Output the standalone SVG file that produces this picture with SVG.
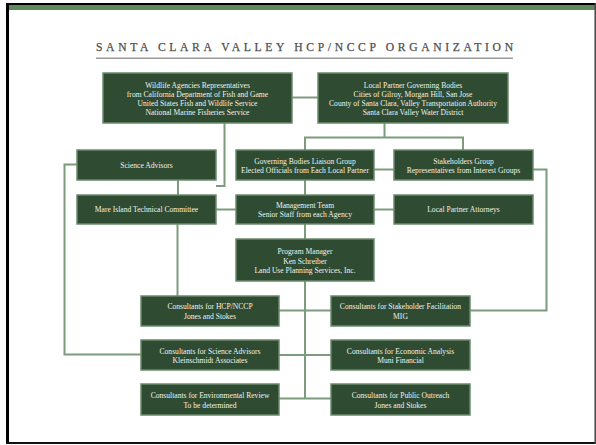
<svg xmlns="http://www.w3.org/2000/svg" width="596" height="445" viewBox="0 0 596 445">
<style>
.box{fill:#2f4b31;stroke:#6b8b6c;stroke-width:1.5}
.t{font-family:"Liberation Serif","Times New Roman",serif;font-size:7.6px;fill:#f2f2ea;text-anchor:middle}
.c{fill:none;stroke:#7d9b7d;stroke-width:2}
.title{font-family:"Liberation Serif","Times New Roman",serif;font-size:11.6px;fill:#4e4e4e;stroke:#4e4e4e;stroke-width:0.25}
</style>
<rect x="0" y="0" width="596" height="445" fill="#ffffff"/>
<g id="frame">
<rect x="9" y="5" width="587" height="5" fill="#5e8a5f"/>
<line x1="6" y1="4" x2="596" y2="4" stroke="#000" stroke-width="2"/>
<line x1="7.5" y1="3" x2="7.5" y2="444" stroke="#000" stroke-width="3"/>
<line x1="6" y1="443" x2="596" y2="443" stroke="#111" stroke-width="2"/>
<line x1="595.2" y1="3" x2="595.2" y2="444" stroke="#444" stroke-width="1.5"/>
</g>
<g id="title">
<text class="title" x="96" y="51" textLength="417" lengthAdjust="spacing">SANTA CLARA VALLEY HCP/NCCP ORGANIZATION</text>
<line x1="96" y1="58.3" x2="513" y2="58.3" stroke="#999" stroke-width="1.4"/>
</g>
<g id="connectors">
<path class="c" d="M292 97.5H318"/>
<path class="c" d="M224.5 123V186H216"/>
<path class="c" d="M384.5 123V137.5M305 150V137.5H463V150"/>
<path class="c" d="M178 180V195"/>
<path class="c" d="M77 164.5H64.5V354.5H141"/>
<path class="c" d="M216 209.5H236"/>
<path class="c" d="M305 180V195"/>
<path class="c" d="M374 169.5H394"/>
<path class="c" d="M533 169.5H546.5V310.5H470"/>
<path class="c" d="M374 209.5H394"/>
<path class="c" d="M305 224V239"/>
<path class="c" d="M177.5 224V296"/>
<path class="c" d="M305 281V398.5"/>
<path class="c" d="M279 310.5H331M279 355H331M279 398.5H331"/>
</g>
<g id="wildlife">
<rect class="box" x="103" y="73" width="189" height="50"/>
<text class="t" x="197.5" y="87.7">Wildlife Agencies Representatives</text>
<text class="t" x="197.5" y="96.9">from California Department of Fish and Game</text>
<text class="t" x="197.5" y="106">United States Fish and Wildlife Service</text>
<text class="t" x="197.5" y="115">National Marine Fisheries Service</text>
</g>
<g id="local-partner">
<rect class="box" x="318" y="73" width="190" height="50"/>
<text class="t" x="413" y="87.7">Local Partner Governing Bodies</text>
<text class="t" x="413" y="96.9">Cities of Gilroy, Morgan Hill, San Jose</text>
<text class="t" x="413" y="106">County of Santa Clara, Valley Transportation Authority</text>
<text class="t" x="413" y="115">Santa Clara Valley Water District</text>
</g>
<g id="science-advisors">
<rect class="box" x="77" y="150" width="139" height="30"/>
<text class="t" x="146.5" y="167.7">Science Advisors</text>
</g>
<g id="mare-island">
<rect class="box" x="77" y="195" width="139" height="29"/>
<text class="t" x="146.5" y="212.3">Mare Island Technical Committee</text>
</g>
<g id="governing-liaison">
<rect class="box" x="236" y="150" width="138" height="30"/>
<text class="t" x="305" y="163.7">Governing Bodies Liaison Group</text>
<text class="t" x="305" y="173.4">Elected Officials from Each Local Partner</text>
</g>
<g id="management">
<rect class="box" x="236" y="195" width="138" height="29"/>
<text class="t" x="305" y="207.7">Management Team</text>
<text class="t" x="305" y="216.9">Senior Staff from each Agency</text>
</g>
<g id="stakeholders">
<rect class="box" x="394" y="150" width="139" height="30"/>
<text class="t" x="463.5" y="163.7">Stakeholders Group</text>
<text class="t" x="463.5" y="173.4">Representatives from Interest Groups</text>
</g>
<g id="attorneys">
<rect class="box" x="394" y="195" width="139" height="29"/>
<text class="t" x="463.5" y="212.3">Local Partner Attorneys</text>
</g>
<g id="program-manager">
<rect class="box" x="236" y="239" width="138" height="42"/>
<text class="t" x="305" y="254.4">Program Manager</text>
<text class="t" x="305" y="263.5">Ken Schreiber</text>
<text class="t" x="305" y="272.7">Land Use Planning Services, Inc.</text>
</g>
<g id="hcp">
<rect class="box" x="141" y="296" width="138" height="30"/>
<text class="t" x="210" y="309.4">Consultants for HCP/NCCP</text>
<text class="t" x="210" y="319.3">Jones and Stokes</text>
</g>
<g id="stakeholder-facilitation">
<rect class="box" x="331" y="296" width="139" height="30"/>
<text class="t" x="400.5" y="309.4">Consultants for Stakeholder Facilitation</text>
<text class="t" x="400.5" y="319.3">MIG</text>
</g>
<g id="science-consultants">
<rect class="box" x="141" y="340" width="138" height="30"/>
<text class="t" x="210" y="353.5">Consultants for Science Advisors</text>
<text class="t" x="210" y="363.3">Kleinschmidt Associates</text>
</g>
<g id="economic">
<rect class="box" x="331" y="340" width="139" height="30"/>
<text class="t" x="400.5" y="353.5">Consultants for Economic Analysis</text>
<text class="t" x="400.5" y="363.3">Muni Financial</text>
</g>
<g id="environmental">
<rect class="box" x="141" y="384" width="138" height="31"/>
<text class="t" x="210" y="398">Consultants for Environmental Review</text>
<text class="t" x="210" y="407.8">To be determined</text>
</g>
<g id="outreach">
<rect class="box" x="331" y="384" width="139" height="31"/>
<text class="t" x="400.5" y="398">Consultants for Public Outreach</text>
<text class="t" x="400.5" y="407.8">Jones and Stokes</text>
</g>
</svg>
